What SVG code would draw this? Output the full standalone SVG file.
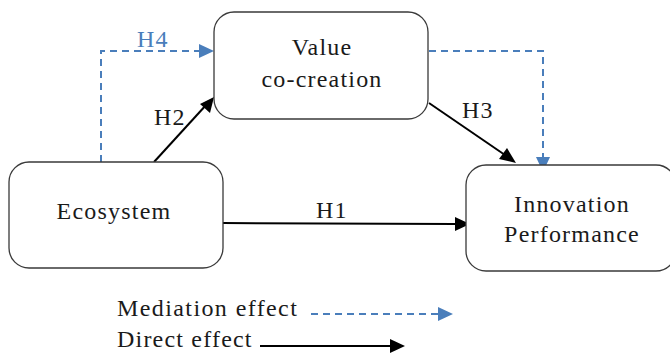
<svg xmlns="http://www.w3.org/2000/svg" width="670" height="353" viewBox="0 0 670 353">
<style>
.box{fill:#fff;stroke:#3a3a3a;stroke-width:1.3}
.t{font-family:'Liberation Serif','DejaVu Serif',serif;font-size:24px;fill:#1a1a1a;letter-spacing:1.2px}
.lg{letter-spacing:1.4px}
.blue{fill:#4a7ebb}
.solid{stroke:#000;stroke-width:2;fill:none}
.dash{stroke:#4a7ebb;stroke-width:2;fill:none;stroke-dasharray:7,5}
</style>
<rect width="670" height="353" fill="#fff"/>
<g id="connectors">
<path class="dash" d="M101,162V51H200"/>
<path d="M199,44L214,51L199,58z" fill="#4a7ebb"/>
<path class="dash" d="M429,51H543V157"/>
<path d="M536,157L543,172L550,157z" fill="#4a7ebb"/>
<line class="solid" x1="154" y1="162" x2="207" y2="104"/>
<path d="M214,97L210,113L200,104z" fill="#000"/>
<line class="solid" x1="429" y1="103" x2="505" y2="155"/>
<path d="M516,163L499,159L507,148z" fill="#000"/>
<line class="solid" x1="223" y1="223" x2="455" y2="224"/>
<path d="M470,224L455,217L455,231z" fill="#000"/>
<text class="t blue" x="137" y="47">H4</text>
<text class="t" x="154" y="125">H2</text>
<text class="t" x="462" y="118">H3</text>
<text class="t" x="316" y="218">H1</text>
</g>
<g id="value-cocreation">
<rect class="box" x="214" y="12" width="214" height="107" rx="20"/>
<text class="t" x="322" y="55" text-anchor="middle">Value</text>
<text class="t" x="322" y="87" text-anchor="middle">co-creation</text>
</g>
<g id="ecosystem">
<rect class="box" x="9" y="162" width="214" height="106" rx="20"/>
<text class="t" x="114" y="219" text-anchor="middle">Ecosystem</text>
</g>
<g id="innovation-performance">
<rect class="box" x="466" y="165" width="210" height="106" rx="20"/>
<text class="t" x="572" y="212" text-anchor="middle">Innovation</text>
<text class="t" x="572" y="242" text-anchor="middle">Performance</text>
</g>
<g id="legend">
<text class="t lg" x="117" y="316">Mediation effect</text>
<path class="dash" d="M311,314H440"/>
<path d="M438,307L453,314L438,321z" fill="#4a7ebb"/>
<text class="t" x="117" y="347">Direct effect</text>
<line class="solid" x1="260" y1="346" x2="392" y2="346"/>
<path d="M405,346L390,339L390,353z" fill="#000"/>
</g>
</svg>
